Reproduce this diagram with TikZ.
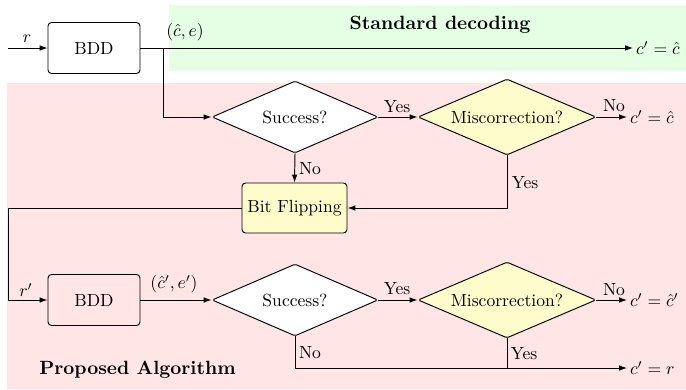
\documentclass[tikz,border=0pt]{standalone}
\usetikzlibrary{shapes.geometric,arrows.meta}
\begin{document}
\begin{tikzpicture}[x=0.02cm,y=-0.02cm,
  line width=0.55pt,
  arr/.style={-{Latex[length=4.5pt,width=3.2pt]}},
  bddbox/.style={draw,rounded corners=2pt,minimum width=1.84cm,minimum height=1.02cm,inner sep=0pt},
  bfbox/.style={draw,rounded corners=2pt,fill=yellow!20,minimum width=2.1cm,minimum height=1.0cm,inner sep=0pt},
  sdiam/.style={draw,diamond,aspect=2.3,rounded corners=1pt,fill=white,minimum width=3.32cm,minimum height=1.44cm,inner sep=0pt},
  mdiam/.style={draw,diamond,aspect=2.3,rounded corners=1pt,fill=yellow!20,minimum width=3.56cm,minimum height=1.52cm,inner sep=0pt},
  outn/.style={anchor=west,inner sep=1.5pt},
  lbl/.style={inner sep=0pt},
  ttl/.style={inner sep=0pt,font=\fontsize{10.9}{13}\selectfont\bfseries}
]
\useasboundingbox (0,0) rectangle (686,389);
\fill[green!10] (169,5) rectangle (686,70.7);
\fill[red!10] (7,83) rectangle (686,389);

\node[ttl] (std) at (440,25) {Standard decoding};
\node[ttl] (prop) at (137.5,370) {Proposed Algorithm};

% top row
\coordinate (in) at (8,48);
\node[bddbox] (bdd1) at (94,48) {BDD};
\node[outn] (o1) at (633,48) {$c'=\hat{c}$};
\node[lbl] (lr) at (27,39) {$r$};
\node[lbl] (lce) at (185,32) {$(\hat{c},e)$};
\draw[arr] (in) -- (bdd1.west);
\draw[arr] (bdd1.east) -- (o1.west);
\coordinate (br) at (163,48);

% first decision row
\node[sdiam] (s1) at (295,117) {Success?};
\node[mdiam] (m1) at (507,117) {Miscorrection?};
\node[outn] (o2) at (627,117) {$c'=\hat{c}$};
\draw[arr] (br) |- (s1.west);
\draw[arr] (s1.east) -- (m1.west);
\draw[arr] (m1.east) -- (o2.west);
\node[lbl] (y1) at (397,107) {Yes};
\node[lbl] (n1) at (614,106) {No};

% bit flipping
\node[bfbox] (bf) at (294.5,208) {Bit Flipping};
\draw[arr] (s1.south) -- (bf.north);
\node[lbl] (n2) at (310,169) {No};
\draw[arr] (m1.south) |- (bf.east);
\node[lbl] (y2) at (525,183) {Yes};

% loop
\coordinate (lp1) at (8,208);
\coordinate (lp2) at (8,300);
\node[bddbox] (bdd2) at (94,300) {BDD};
\draw[arr] (bf.west) -- (lp1) -- (lp2) -- (bdd2.west);
\node[lbl] (lr2) at (26,290) {$r'$};

% second decision row
\node[sdiam] (s2) at (295,300) {Success?};
\node[mdiam] (m2) at (507,300) {Miscorrection?};
\node[outn] (o3) at (627,300) {$c'=\hat{c}'$};
\draw[arr] (bdd2.east) -- (s2.west);
\node[lbl] (lce2) at (174,284) {$(\hat{c}',e')$};
\draw[arr] (s2.east) -- (m2.west);
\draw[arr] (m2.east) -- (o3.west);
\node[lbl] (y3) at (397,289) {Yes};
\node[lbl] (n3) at (614,290) {No};

% bottom
\node[outn] (o4) at (627,368) {$c'=r$};
\draw[arr] (s2.south) |- (o4.west);
\coordinate (jn) at (507,368);
\draw (m2.south) -- (jn);
\node[lbl] (n4) at (310,353) {No};
\node[lbl] (y4) at (524,354) {Yes};
\end{tikzpicture}
\end{document}
